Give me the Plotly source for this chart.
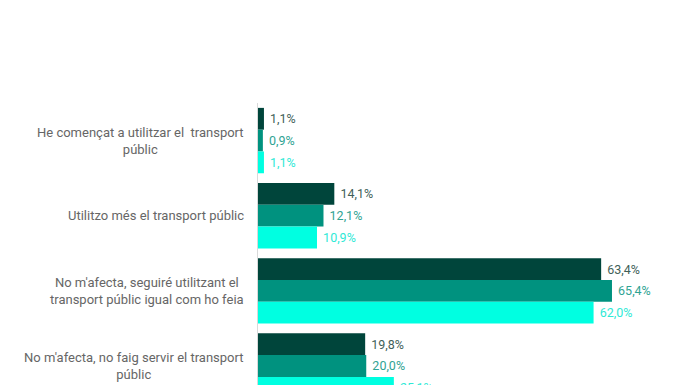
import plotly.graph_objects as go

categories = [
    "He començat a utilitzar el  transport<br>públic",
    "Utilitzo més el transport públic",
    "No m'afecta, seguiré utilitzant el<br>transport públic igual com ho feia",
    "No m'afecta, no faig servir el transport<br>públic",
]
series_names = ["Sèrie 1", "Sèrie 2", "Sèrie 3"]
values_1 = [1.1, 14.1, 63.4, 19.8]
values_2 = [0.9, 12.1, 65.4, 20.0]
values_3 = [1.1, 10.9, 62.0, 25.1]

bar_colors = ["#00453B", "#00927F", "#00FFE1"]
text_colors = ["#3F5F59", "#2FA393", "#2FE9D6"]

def fmt(v):
    return "\u00a0" + f"{v:.1f}".replace(".", ",") + "%"

pos = list(range(len(categories)))
fig = go.Figure()
for name, vals, bc, tc in zip(series_names, [values_1, values_2, values_3], bar_colors, text_colors):
    fig.add_trace(go.Bar(
        y=pos, x=vals, orientation="h", name=name,
        marker=dict(color=bc, line=dict(width=0)),
        text=[fmt(v) for v in vals], textposition="outside",
        textfont=dict(color=tc, size=12.5, family="Roboto"),
        cliponaxis=True,
    ))

for i, c in enumerate(categories):
    fig.add_annotation(
        x=0, xref="x", y=i, yref="y", text=c, showarrow=False,
        xanchor="right", xshift=-12, align="center",
        font=dict(size=13, color="#666666", family="Roboto"),
    )

fig.update_layout(
    width=696, height=385,
    margin=dict(l=250, r=13, t=95, b=8),
    barmode="group", bargap=0.13, bargroupgap=0,
    plot_bgcolor="white", paper_bgcolor="white",
    showlegend=False,
    xaxis=dict(range=[0, 80], visible=False, showgrid=False, zeroline=False),
    yaxis=dict(range=[3.253, -0.5], showticklabels=False, showgrid=False,
               zeroline=False, showline=True, linecolor="#D9D9D9", linewidth=1,
               ticks=""),
)
fig.write_html("out.html")
